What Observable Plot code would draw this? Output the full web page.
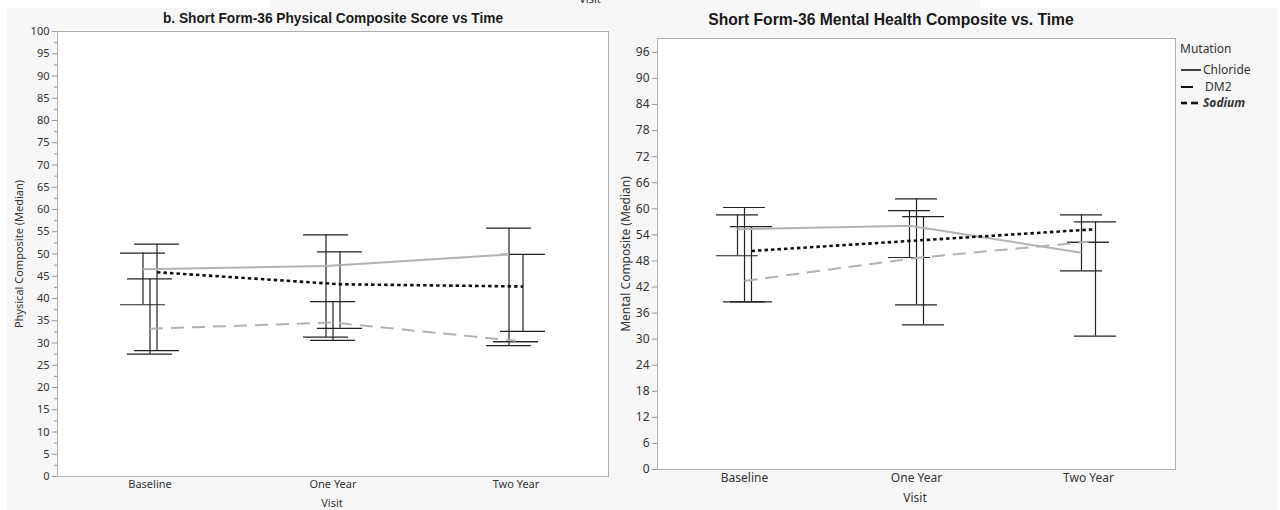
<!DOCTYPE html>
<html><head><meta charset="utf-8">
<script src="https://cdn.jsdelivr.net/npm/d3@7"></script>
<script src="https://cdn.jsdelivr.net/npm/@observablehq/plot@0.6"></script>
<style>
html,body{margin:0;padding:0;background:#fff;width:1280px;height:510px;overflow:hidden;font-family:"Noto Sans",sans-serif;}
.abs{position:absolute;}
#bg{left:7px;top:8px;width:1270px;height:502px;background:#f7f7f7;}
#bgtop{left:270px;top:0;width:710px;height:8px;background:#f7f7f7;overflow:hidden;}
.title{font-family:"Liberation Sans Narrow","Liberation Sans",sans-serif;font-weight:bold;color:#1a1a1a;white-space:nowrap;}
.lab{color:#333;white-space:nowrap;transform:translate(-50%,-50%);}
.rot{transform:translate(-50%,-50%) rotate(-90deg);}
svg g[aria-label="y-axis tick"]{stroke:#9a9a9a;}
.leg{color:#333;font-size:12px;white-space:nowrap;}
</style>
</head><body>
<div id="bg" class="abs"></div>
<div id="bgtop" class="abs"><div class="lab abs" style="left:320px;top:-2px;font-size:11px;">Visit</div></div>
<div id="left" class="abs" style="left:0;top:0;"></div>
<div id="right" class="abs" style="left:600px;top:0;"></div>
<div id="texts"></div>
<script>
// ---- categories ----
const visits = ["Baseline", "One Year", "Two Year"];
const mutations = ["Chloride", "DM2", "Sodium"];

// ---- Physical composite (median, whisker low/high), rows = Chloride, DM2, Sodium ----
const physMedian = [[46.6, 47.3, 49.9], [33.2, 34.6, 30.5], [45.9, 43.2, 42.7]];
const physLow    = [[38.6, 31.3, 29.4], [27.5, 30.6, 30.3], [28.3, 33.3, 32.6]];
const physHigh   = [[50.2, 54.3, 55.8], [44.4, 39.3, 30.3], [52.2, 50.5, 49.9]];

// ---- Mental composite ----
const mentMedian = [[55.3, 56.1, 49.9], [43.4, 48.7, 52.4], [50.3, 52.8, 55.3]];
const mentLow    = [[49.2, 48.8, 45.7], [38.6, 37.9, 52.3], [38.6, 33.3, 30.7]];
const mentHigh   = [[58.6, 59.6, 58.6], [60.3, 62.3, 52.3], [55.9, 58.2, 57.0]];

// ---- tick labels ----
const physTicks = d3.range(0, 101, 5);
const physMinor = d3.range(2.5, 100, 5);
const mentTicks = d3.range(0, 97, 6);

// ---- series styles ----
const seriesStyle = {
  Chloride: {stroke: "#b2b2b2", strokeWidth: 2, dash: null, dx: -7},
  DM2: {stroke: "#b2b2b2", strokeWidth: 2, dash: "13,8", dx: 0},
  Sodium: {stroke: "#111", strokeWidth: 2.6, dash: "3.5,3", dx: 7}
};

function rowsFor(med, lo, hi) {
  const out = [];
  mutations.forEach((m, i) => visits.forEach((v, j) => out.push({mutation: m, visit: v, median: med[i][j], low: lo[i][j], high: hi[i][j]})));
  return out;
}

function panel({rows, yDomain, ticks, minor, width, margins, capInset, fontSize}) {
  const marks = [
    Plot.frame({fill: "white", stroke: "#b0b0b0"}),
    Plot.axisY({ticks, tickSize: 5, tickPadding: 3, label: null, fontSize}),
  ];
  if (minor) marks.push(Plot.axisY({ticks: minor, tickSize: 3, tickFormat: () => "", label: null}));
  marks.push(Plot.axisX({tickSize: 0, tickPadding: 4, label: null, fontSize}));
  for (const m of mutations) {
    const d = rows.filter(r => r.mutation === m);
    const s = seriesStyle[m];
    marks.push(Plot.ruleX(d, {x: "visit", y1: "low", y2: "high", dx: s.dx, stroke: "#222", strokeWidth: 1.2}));
    marks.push(Plot.tickY(d, {x: "visit", y: "low", dx: s.dx, insetLeft: capInset, insetRight: capInset, stroke: "#222", strokeWidth: 1.2}));
    marks.push(Plot.tickY(d, {x: "visit", y: "high", dx: s.dx, insetLeft: capInset, insetRight: capInset, stroke: "#222", strokeWidth: 1.2}));
  }
  for (const m of mutations) {
    const d = rows.filter(r => r.mutation === m);
    const s = seriesStyle[m];
    marks.push(Plot.line(d, {x: "visit", y: "median", dx: s.dx, stroke: s.stroke, strokeWidth: s.strokeWidth, strokeDasharray: s.dash, strokeLinecap: "butt"}));
  }
  return Plot.plot({
    width, height: 510,
    marginLeft: margins[0], marginRight: margins[1], marginTop: margins[2], marginBottom: margins[3],
    style: {background: "transparent", color: "#333", fontFamily: "'Noto Sans', sans-serif", fontSize: fontSize + "px"},
    x: {type: "band", domain: visits, padding: 0},
    y: {domain: yDomain},
    marks
  });
}

document.getElementById("left").appendChild(panel({
  rows: rowsFor(physMedian, physLow, physHigh), yDomain: [0, 100], ticks: physTicks, minor: physMinor,
  width: 615, margins: [57, 7, 31, 34], capInset: 69, fontSize: 11
}));
document.getElementById("right").appendChild(panel({
  rows: rowsFor(mentMedian, mentLow, mentHigh), yDomain: [0, 99.2], ticks: mentTicks, minor: null,
  width: 580, margins: [57, 5, 38, 41], capInset: 65, fontSize: 12
}));

// ---- titles / axis labels / legend ----
const T = document.getElementById("texts");
function add(html, cls, style) { const e = document.createElement("div"); e.className = "abs " + cls; e.setAttribute("style", style); e.innerHTML = html; T.appendChild(e); }
add("b. Short Form-36 Physical Composite Score vs Time", "title", "left:333px;top:18px;font-size:14.5px;transform:translate(-50%,-50%) scaleX(0.945);");
add("Short Form-36 Mental Health Composite vs. Time", "title", "left:891px;top:19px;font-size:16.5px;transform:translate(-50%,-50%) scaleX(0.95);");
add("Physical Composite (Median)", "lab rot", "left:18px;top:254px;font-size:11px;");
add("Mental Composite (Median)", "lab rot", "left:625px;top:254px;font-size:12px;");
add("Visit", "lab", "left:332px;top:502px;font-size:11px;");
add("Visit", "lab", "left:915px;top:497px;font-size:12px;");
add("Mutation", "leg", "left:1180px;top:40px;");
const legendRows = [
  {name: "Chloride", y: 70, segs: [[1181, 1201]], w: 1.6, style: ""},
  {name: "DM2", y: 87, segs: [[1181, 1193]], w: 2, style: ""},
  {name: "Sodium", y: 103, segs: [[1181, 1187], [1191, 1198]], w: 2.6, style: "font-weight:bold;font-style:italic;"}
];
for (const r of legendRows) {
  const svg = d3.create("svg").attr("width", 30).attr("height", 6).style("position", "absolute").style("left", "1178px").style("top", (r.y - 3) + "px");
  for (const [a, b] of r.segs) svg.append("line").attr("x1", a - 1178).attr("x2", b - 1178).attr("y1", 3).attr("y2", 3).attr("stroke", "#111").attr("stroke-width", r.w);
  T.appendChild(svg.node());
  add(r.name, "leg", `left:${r.name === "DM2" ? 1205 : 1203}px;top:${r.y - 9}px;${r.style}`);
}
</script>
</body></html>
